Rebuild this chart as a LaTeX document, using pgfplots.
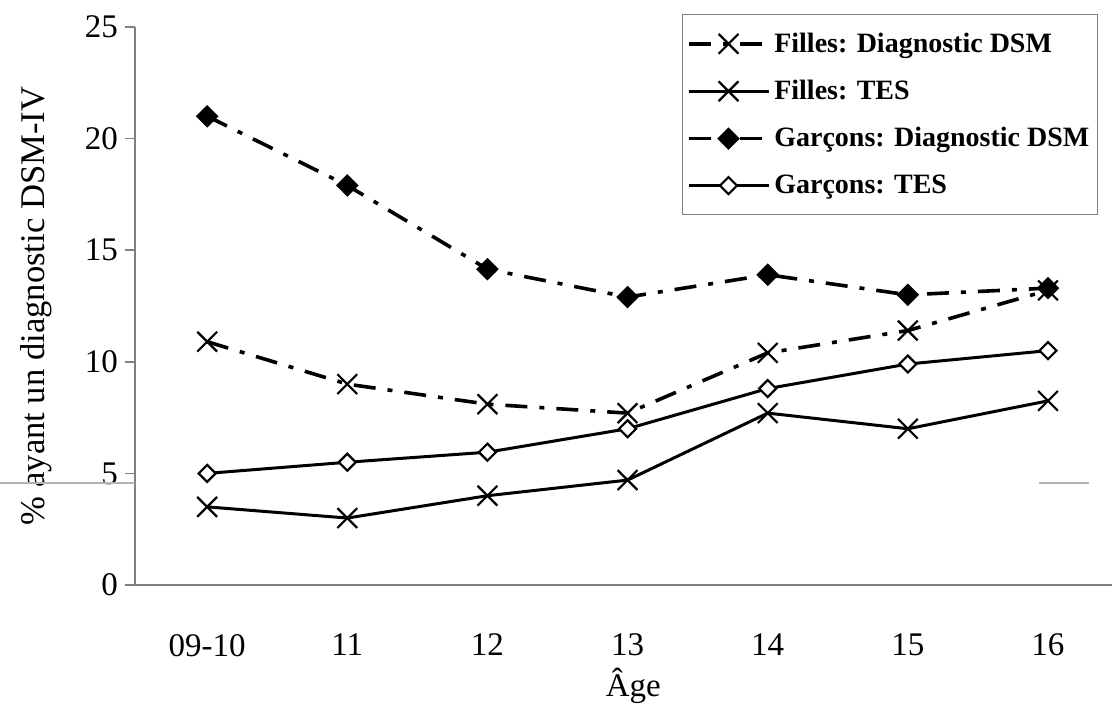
\documentclass[border=0pt]{standalone}
\usepackage{fontspec}
\setmainfont{Liberation Serif}
\usepackage{pgfplots}
\pgfplotsset{compat=1.18}
\usepackage{pgfplotstable}

% Age groups: 0 = 09-10, 1 = 11, ..., 6 = 16
\pgfplotstableread{
x  fdsm  ftes  gdsm  gtes
0  10.9  3.5   21.0  5.0
1  9.0   3.0   17.9  5.5
2  8.1   4.0   14.15 5.95
3  7.7   4.7   12.9  7.0
4  10.4  7.7   13.9  8.8
5  11.4  7.0   13.0  9.9
6  13.2  8.25  13.3  10.5
}\data

\begin{document}
\begin{tikzpicture}
\begin{axis}[
  name=ax,
  width=488.5pt, height=279pt, scale only axis,
  xmin=-0.515, xmax=6.457, ymin=0, ymax=25,
  axis x line*=bottom, axis y line*=left,
  axis line style={gray, line width=0.8pt, -},
  xtick={0,...,6},
  xticklabels={09-10,11,12,13,14,15,16},
  xtick style={draw=none},
  ytick={0,5,...,25},
  ytick style={gray, line width=0.8pt},
  tick align=outside, major tick length=5pt,
  /pgf/number format/assume math mode=true,
  tick label style={font=\fontsize{16.5}{19}\selectfont},
  xticklabel style={yshift=-16pt},
  xlabel={Âge},
  ylabel={\% ayant un diagnostic DSM-IV},
  every axis x label/.style={at={(axis description cs:0.51,-0.2007)}, anchor=base,
    font=\fontsize{16.5}{19}\selectfont},
  every axis y label/.style={at={(axis description cs:-0.101,0.5)}, rotate=90, anchor=center,
    font=\fontsize{17.3}{20}\selectfont},
  clip=false,
  legend cell align=left,
  legend style={at={(axis description cs:0.56,1.0233)}, anchor=north west,
    draw=gray, line width=0.6pt,
    font=\bfseries\fontsize{14}{16}\selectfont,
    row sep=8.5pt, inner xsep=2pt, inner ysep=7pt},
  legend image code/.code={
    \draw[mark repeat=2, mark phase=2, #1]
      plot coordinates {(0pt,0pt) (20pt,0pt) (40pt,0pt)};
  },
]
\addplot[black, line width=1.8pt, dash pattern=on 11pt off 6pt on 2.5pt off 6pt,
  mark=x, mark size=7pt, mark options={solid, line width=1.1pt}]
  table[x=x, y=fdsm] {\data};
\addlegendentry{Filles: Diagnostic DSM}
\addplot[black, line width=1.5pt,
  mark=x, mark size=7pt, mark options={solid, line width=1.1pt}]
  table[x=x, y=ftes] {\data};
\addlegendentry{Filles: TES}
\addplot[black, line width=1.8pt, dash pattern=on 11pt off 6pt on 2.5pt off 6pt,
  mark=square*, mark size=3.1pt, mark options={solid, rotate=45, fill=black}]
  table[x=x, y=gdsm] {\data};
\addlegendentry{Garçons: Diagnostic DSM}
\addplot[black, line width=1.5pt,
  mark=square*, mark size=3pt, mark options={solid, rotate=45, fill=white, line width=1.1pt}]
  table[x=x, y=gtes] {\data};
\addlegendentry{Garçons: TES}
\end{axis}
% faint rule across the left margin and near the right edge
\draw[gray!60, line width=0.7pt] ([shift={(-67.5pt,51pt)}]ax.south west) -- ([shift={(0pt,51pt)}]ax.south west);
\draw[gray!60, line width=0.7pt] ([shift={(452pt,51pt)}]ax.south west) -- ([shift={(477pt,51pt)}]ax.south west);
\pgfresetboundingbox
\path ([shift={(-67.5pt,-60pt)}]ax.south west) rectangle ([shift={(488.5pt,292.5pt)}]ax.south west);
\end{tikzpicture}
\end{document}
